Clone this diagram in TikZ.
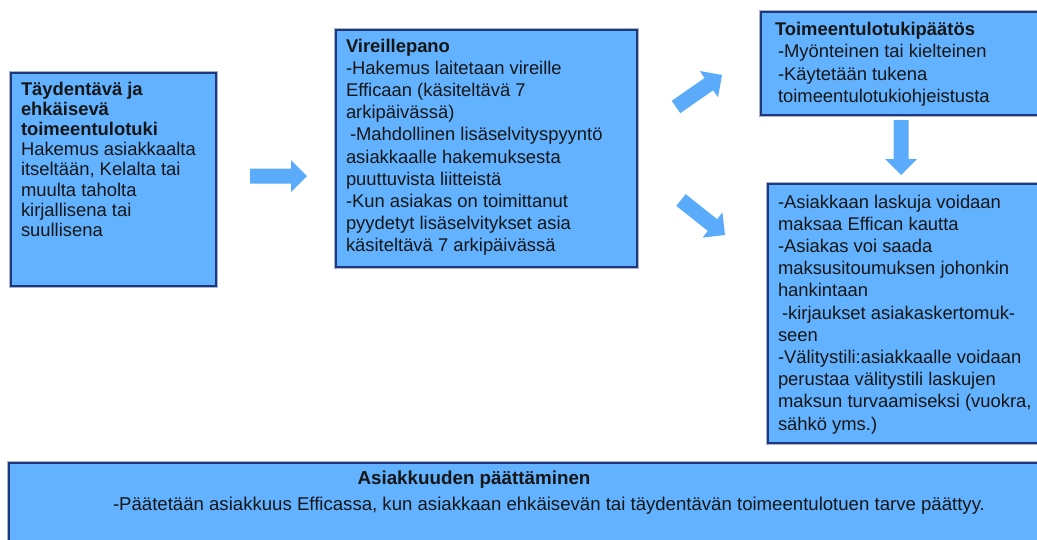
\documentclass[tikz,border=0pt]{standalone}
\usepackage{fontspec}
\setmainfont{Liberation Sans}
\usetikzlibrary{calc}
\definecolor{boxfill}{RGB}{98,178,255}
\definecolor{boxline}{RGB}{30,55,125}
\definecolor{boxhalo}{RGB}{170,180,200}
\definecolor{arrowcol}{RGB}{90,172,250}
\definecolor{txtcol}{RGB}{22,22,22}
\tikzset{
  box/.style={draw=boxline, fill=boxfill, line width=2pt, inner sep=0pt, outer sep=0pt, anchor=north west,
    preaction={draw=boxhalo, line width=3.6pt}},
  label/.style={inner sep=0pt, outer sep=0pt, text=txtcol, anchor=base west},
  blockarr/.style={fill=arrowcol, draw=none}
}
\newcommand\blockarrow[3]{%
  \coordinate (#3h) at ($(#2)!16pt!(#1)$);
  \fill[blockarr] ($(#1)!7.5pt!90:(#2)$) -- ($(#3h)!7.5pt!90:(#2)$) -- ($(#3h)!16pt!90:(#2)$)
    -- (#2) -- ($(#3h)!16pt!-90:(#2)$) -- ($(#3h)!7.5pt!-90:(#2)$) -- ($(#1)!7.5pt!-90:(#2)$) -- cycle;
}
\begin{document}
\begin{tikzpicture}[x=1pt,y=-1pt]
\useasboundingbox (0,0) rectangle (1037,539);
\fill[white] (0,0) rectangle (1037,539);
\clip (0,0) rectangle (1037,539);

% boxes
\node[box, minimum width=205pt, minimum height=213pt] (b1) at (11,73) {};
\node[box, minimum width=301pt, minimum height=237pt] (b2) at (336,30) {};
\node[box, minimum width=300pt, minimum height=103pt] (b3) at (761,12) {};
\node[box, minimum width=300pt, minimum height=259pt] (b4) at (768,184) {};
\node[box, minimum width=1060pt, minimum height=100pt] (b5) at (9,463) {};

% texts
\node[label] (t1) at (21,95) {\parbox[t]{200pt}{\fontsize{18.4}{20.2}\selectfont\raggedright
\textbf{Täydentävä ja}\\
\textbf{ehkäisevä}\\
\textbf{toimeentulotuki}\\
Hakemus asiakkaalta\\
itseltään, Kelalta tai\\
muulta taholta\\
kirjallisena tai\\
suullisena}};

\node[label] (t2) at (346,52) {\parbox[t]{300pt}{\fontsize{18.4}{22.2}\selectfont\raggedright
\textbf{Vireillepano}\\
-Hakemus laitetaan vireille\\
Efficaan (käsiteltävä 7\\
arkipäivässä)\\
\hspace*{4pt}-Mahdollinen lisäselvityspyyntö\\
asiakkaalle hakemuksesta\\
puuttuvista liitteistä\\
-Kun asiakas on toimittanut\\
pyydetyt lisäselvitykset asia\\
käsiteltävä 7 arkipäivässä}};

\node[label] (t3) at (775,35) {\parbox[t]{300pt}{\fontsize{18.4}{22.5}\selectfont\raggedright
\textbf{Toimeentulotukipäätös}\\
\hspace*{3pt}-Myönteinen tai kielteinen\\
\hspace*{3pt}-Käytetään tukena\\
\hspace*{3pt}toimeentulotukiohjeistusta}};

\node[label] (t4) at (778,208) {\parbox[t]{300pt}{\fontsize{18.4}{22.2}\selectfont\raggedright
-Asiakkaan laskuja voidaan\\
maksaa Effican kautta\\
-Asiakas voi saada\\
maksusitoumuksen johonkin\\
hankintaan\\
\hspace*{4pt}-kirjaukset asiakaskertomuk-\\
seen\\
-Välitystili:asiakkaalle voidaan\\
perustaa välitystili laskujen\\
maksun turvaamiseksi (vuokra,\\
sähkö yms.)}};

\node[label, anchor=base] (t5a) at (474,484) {\fontsize{18.8}{22}\selectfont\textbf{Asiakkuuden päättäminen}};
\node[label, anchor=base] (t5b) at (549,510) {\fontsize{18.6}{22}\selectfont -Päätetään asiakkuus Efficassa, kun asiakkaan ehkäisevän tai täydentävän toimeentulotuen tarve päättyy.};

% block arrows
\coordinate (a1s) at (250,176);
\coordinate (a1e) at (307,176);
\coordinate (a2s) at (676,107);
\coordinate (a2e) at (722,75);
\coordinate (a3s) at (681,200);
\coordinate (a3e) at (725,235);
\coordinate (a4s) at (901,120);
\coordinate (a4e) at (901,175);
\blockarrow{a1s}{a1e}{a1}
\blockarrow{a2s}{a2e}{a2}
\blockarrow{a3s}{a3e}{a3}
\blockarrow{a4s}{a4e}{a4}
\end{tikzpicture}
\end{document}
